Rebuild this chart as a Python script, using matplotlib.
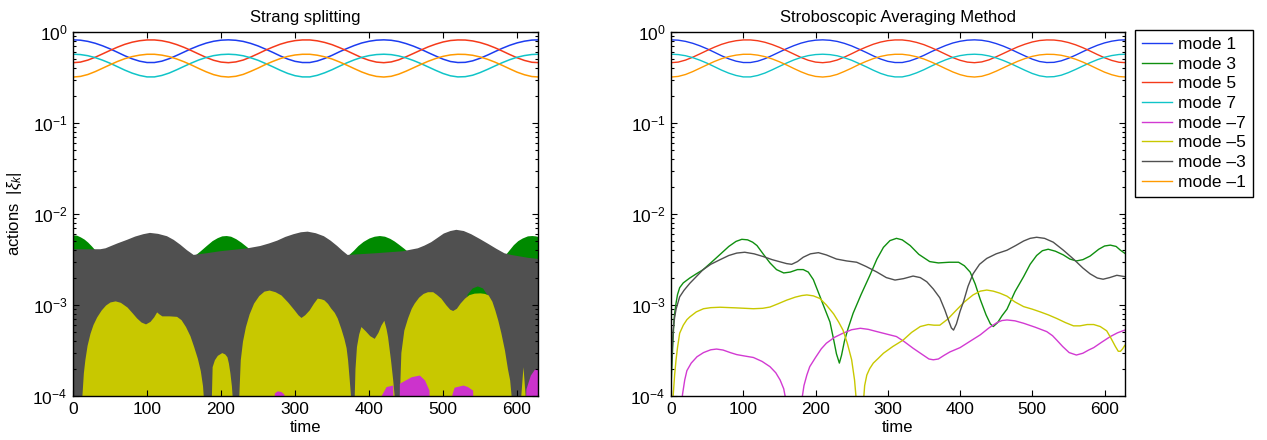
import numpy as np
import matplotlib
matplotlib.use('Agg')
import matplotlib.pyplot as plt

plt.rcParams['font.family'] = ['Liberation Sans', 'DejaVu Sans']
plt.rcParams['mathtext.fontset'] = 'custom'
plt.rcParams['mathtext.rm'] = 'Liberation Sans'
plt.rcParams['mathtext.it'] = 'Liberation Sans:italic'
plt.rcParams['mathtext.bf'] = 'Liberation Sans:bold'

FLOOR = 1e-5

# ---------------- top (large) modes, common to both panels ----------------
t_top = np.arange(0, 631, 10)
mode1 = [0.820, 0.813, 0.789, 0.752, 0.705, 0.653, 0.599, 0.548, 0.507, 0.478, 0.462, 0.462, 0.478, 0.509, 0.552, 0.602,
         0.656, 0.708, 0.755, 0.791, 0.813, 0.820, 0.811, 0.788, 0.750, 0.703, 0.649, 0.597, 0.546, 0.505, 0.476, 0.462,
         0.462, 0.480, 0.512, 0.554, 0.606, 0.658, 0.710, 0.757, 0.791, 0.813, 0.820, 0.811, 0.786, 0.746, 0.699, 0.647,
         0.593, 0.545, 0.503, 0.474, 0.462, 0.464, 0.482, 0.514, 0.557, 0.608, 0.662, 0.714, 0.759, 0.793, 0.815, 0.820]
mode5 = [0.460, 0.467, 0.491, 0.528, 0.575, 0.627, 0.681, 0.732, 0.773, 0.802, 0.818, 0.818, 0.802, 0.771, 0.728, 0.678,
         0.624, 0.572, 0.525, 0.489, 0.467, 0.460, 0.469, 0.492, 0.530, 0.577, 0.631, 0.683, 0.734, 0.775, 0.804, 0.818,
         0.818, 0.800, 0.768, 0.726, 0.674, 0.622, 0.570, 0.523, 0.489, 0.467, 0.460, 0.469, 0.494, 0.534, 0.581, 0.633,
         0.687, 0.735, 0.777, 0.806, 0.818, 0.816, 0.798, 0.766, 0.723, 0.672, 0.618, 0.566, 0.521, 0.487, 0.465, 0.460]
mode7 = [0.570, 0.565, 0.549, 0.523, 0.490, 0.454, 0.416, 0.381, 0.353, 0.333, 0.321, 0.321, 0.333, 0.354, 0.384, 0.419,
         0.456, 0.493, 0.525, 0.550, 0.565, 0.570, 0.564, 0.548, 0.521, 0.489, 0.451, 0.415, 0.380, 0.351, 0.331, 0.321,
         0.321, 0.334, 0.356, 0.385, 0.421, 0.458, 0.494, 0.526, 0.550, 0.565, 0.570, 0.564, 0.546, 0.519, 0.486, 0.450,
         0.413, 0.379, 0.350, 0.330, 0.321, 0.323, 0.335, 0.358, 0.388, 0.423, 0.460, 0.496, 0.528, 0.551, 0.566, 0.570]
mode_m1 = [0.320, 0.325, 0.341, 0.367, 0.400, 0.436, 0.474, 0.509, 0.537, 0.557, 0.569, 0.569, 0.557, 0.536, 0.506, 0.471,
           0.434, 0.397, 0.365, 0.340, 0.325, 0.320, 0.326, 0.342, 0.369, 0.401, 0.439, 0.475, 0.510, 0.539, 0.559, 0.569,
           0.569, 0.556, 0.534, 0.505, 0.469, 0.432, 0.396, 0.364, 0.340, 0.325, 0.320, 0.326, 0.344, 0.371, 0.404, 0.440,
           0.477, 0.511, 0.540, 0.560, 0.569, 0.567, 0.555, 0.532, 0.502, 0.467, 0.430, 0.394, 0.362, 0.339, 0.324, 0.320]

# ---------------- left panel: envelopes of the rapidly oscillating small modes ----------------
green_t = [0, 5, 10, 15, 20, 25, 30, 38, 45, 150, 160, 165, 172, 180, 188, 195, 201, 207, 213, 220, 227, 235, 242,
           250, 360, 366, 372, 379, 385, 392, 400, 407, 414, 421, 428, 434, 440, 447, 455, 470, 575, 580, 585, 590,
           595, 601, 607, 614, 620, 625, 630]
green_v = [5.9e-3, 5.85e-3, 5.6e-3, 5.3e-3, 4.9e-3, 4.45e-3, 4.0e-3, 3.5e-3, 3.0e-3, 3.0e-3, 3.3e-3, 3.55e-3, 3.95e-3,
           4.5e-3, 5.1e-3, 5.5e-3, 5.75e-3, 5.8e-3, 5.7e-3, 5.35e-3, 4.9e-3, 4.35e-3, 3.9e-3, 3.3e-3, 3.0e-3, 3.25e-3,
           3.55e-3, 4.0e-3, 4.5e-3, 5.0e-3, 5.45e-3, 5.7e-3, 5.8e-3, 5.7e-3, 5.4e-3, 5.05e-3, 4.65e-3, 4.2e-3, 3.7e-3,
           3.0e-3, 3.0e-3, 3.3e-3, 3.65e-3, 4.1e-3, 4.6e-3, 5.1e-3, 5.45e-3, 5.75e-3, 5.8e-3, 5.75e-3, 5.6e-3]

gray_t = [0, 20, 37, 44, 50, 60, 73, 84, 95, 104, 115, 127, 136, 145, 154, 163, 180, 199, 218, 236, 253, 265, 276,
          287, 298, 308, 317, 328, 339, 348, 357, 364, 371, 408, 446, 456, 466, 475, 484, 493, 501, 510, 518, 528,
          538, 550, 561, 572, 583, 592, 601, 615, 630]
gray_v = [4.1e-3, 4.1e-3, 4.1e-3, 4.2e-3, 4.4e-3, 4.75e-3, 5.2e-3, 5.65e-3, 6.0e-3, 6.2e-3, 6.05e-3, 5.7e-3, 5.2e-3,
          4.6e-3, 4.0e-3, 3.55e-3, 3.7e-3, 3.9e-3, 4.05e-3, 4.2e-3, 4.45e-3, 4.75e-3, 5.1e-3, 5.6e-3, 6.0e-3, 6.3e-3,
          6.4e-3, 6.15e-3, 5.7e-3, 5.1e-3, 4.45e-3, 3.95e-3, 3.55e-3, 3.7e-3, 3.9e-3, 4.05e-3, 4.2e-3, 4.5e-3, 4.9e-3,
          5.5e-3, 6.1e-3, 6.5e-3, 6.7e-3, 6.5e-3, 6.0e-3, 5.3e-3, 4.7e-3, 4.15e-3, 3.7e-3, 3.55e-3, 3.45e-3, 3.3e-3,
          3.2e-3]
gray_low_t = [0, 532, 533, 540, 547, 554, 561, 562, 630]
gray_low_v = [FLOOR, FLOOR, 1.3e-3, 1.52e-3, 1.6e-3, 1.52e-3, 1.25e-3, FLOOR, FLOOR]

yellow_t = [0, 11, 12, 14, 16, 19, 23, 27, 32, 38, 44, 50, 57, 64, 73, 80, 86, 92, 98, 104, 109, 113, 116, 120, 130,
            140, 146, 152, 158, 163, 168, 172, 175, 176, 177,
            186, 187, 188, 191, 195, 201, 205, 208, 210, 212, 214, 215, 216,
            223, 224, 226, 229, 233, 238, 244, 251, 258, 265, 273, 281, 290, 299, 304, 308, 313, 319, 325, 330, 335,
            339, 344, 348, 353, 357, 362, 366, 369, 371, 373, 375, 376,
            379, 380, 381, 383, 386, 389, 395, 401, 407, 412, 416, 420, 423, 425, 429, 432, 434, 435,
            440, 441, 443, 447, 452, 457, 461, 467, 473, 479, 486, 491, 497, 504, 509, 513, 518, 523, 529, 535, 542,
            550, 556, 561, 566, 570, 574, 578, 583, 587, 590, 592, 593,
            604, 605, 608, 611, 612, 630]
yellow_v = [FLOOR, FLOOR, 1.0e-4, 1.8e-4, 2.5e-4, 3.6e-4, 4.9e-4, 6.1e-4, 7.4e-4, 8.8e-4, 1.0e-3, 1.08e-3, 1.11e-3,
            1.07e-3, 9.5e-4, 8.2e-4, 7.2e-4, 6.5e-4, 6.2e-4, 6.6e-4, 7.4e-4, 8.4e-4, 8.0e-4, 7.6e-4, 7.6e-4, 7.5e-4,
            6.9e-4, 5.8e-4, 4.6e-4, 3.5e-4, 2.6e-4, 1.9e-4, 1.3e-4, 1.0e-4, FLOOR,
            FLOOR, 1.0e-4, 2.1e-4, 2.5e-4, 2.8e-4, 3.0e-4, 2.9e-4, 2.7e-4, 2.3e-4, 1.8e-4, 1.3e-4, 1.0e-4, FLOOR,
            FLOOR, 1.0e-4, 2.5e-4, 4.0e-4, 5.8e-4, 8.0e-4, 1.05e-3, 1.27e-3, 1.42e-3, 1.46e-3, 1.40e-3, 1.29e-3,
            1.08e-3, 8.8e-4, 7.8e-4, 7.3e-4, 7.8e-4, 8.8e-4, 1.05e-3, 1.19e-3, 1.17e-3, 1.14e-3, 1.04e-3, 9.3e-4,
            8.3e-4, 7.2e-4, 5.5e-4, 4.3e-4, 3.4e-4, 2.5e-4, 1.6e-4, 1.0e-4, FLOOR,
            FLOOR, 1.0e-4, 2.0e-4, 3.5e-4, 4.8e-4, 5.8e-4, 5.2e-4, 4.6e-4, 4.3e-4, 5.0e-4, 6.0e-4, 6.8e-4, 5.5e-4,
            4.5e-4, 2.5e-4, 1.5e-4, 1.0e-4, FLOOR,
            FLOOR, 1.0e-4, 3.0e-4, 5.3e-4, 7.2e-4, 9.2e-4, 1.05e-3, 1.22e-3, 1.34e-3, 1.40e-3, 1.40e-3, 1.31e-3,
            1.19e-3, 1.0e-3, 9.0e-4, 8.7e-4, 9.2e-4, 1.05e-3, 1.19e-3, 1.30e-3, 1.35e-3, 1.36e-3, 1.34e-3, 1.29e-3,
            1.1e-3, 8.8e-4, 6.8e-4, 5.0e-4, 3.2e-4, 2.0e-4, 1.5e-4, 1.0e-4, FLOOR,
            FLOOR, 1.0e-4, 2.1e-4, 1.0e-4, FLOOR, FLOOR]

magenta_t = [0, 270, 272, 276, 281, 285, 287, 415, 416, 423, 432, 434, 440, 441, 445, 457, 468, 475, 481, 484, 510,
             512, 515, 527, 533, 540, 543, 607, 612, 618, 624, 630]
magenta_v = [FLOOR, FLOOR, 1.08e-4, 1.14e-4, 1.12e-4, 1.05e-4, FLOOR, FLOOR, 1.0e-4, 1.27e-4, 1.32e-4, FLOOR, FLOOR,
             1.38e-4, 1.44e-4, 1.63e-4, 1.70e-4, 1.50e-4, 1.16e-4, FLOOR, FLOOR, 1.05e-4, 1.25e-4, 1.32e-4, 1.27e-4,
             1.16e-4, FLOOR, FLOOR, 1.2e-4, 1.7e-4, 2.0e-4, 1.9e-4]

# ---------------- right panel: averaged small modes ----------------
t3 = [0, 1, 2, 3, 4, 5, 7, 9, 12, 17, 26, 35, 44, 55, 68, 80, 90, 98, 106, 113, 119, 128, 137, 146, 156, 165, 175,
      183, 190, 197, 206, 213, 220, 225, 229, 233, 236, 240, 245, 252, 263, 275, 285, 294, 303, 312, 320, 331, 343,
      358, 370, 385, 398, 406, 414, 421, 428, 436, 442, 446, 452, 458, 465, 476, 488, 497, 506, 514, 522, 532, 543,
      552, 561, 570, 580, 592, 600, 608, 616, 622, 628]
v3 = [1.2e-4, 2.0e-4, 3.0e-4, 4.5e-4, 6.5e-4, 8.0e-4, 1.05e-3, 1.3e-3, 1.55e-3, 1.75e-3, 1.98e-3, 2.2e-3, 2.43e-3,
      2.9e-3, 3.6e-3, 4.4e-3, 5.0e-3, 5.27e-3, 5.2e-3, 4.9e-3, 4.5e-3, 3.6e-3, 2.9e-3, 2.45e-3, 2.25e-3, 2.3e-3,
      2.45e-3, 2.45e-3, 2.3e-3, 1.9e-3, 1.25e-3, 9.0e-4, 6.5e-4, 4.2e-4, 2.9e-4, 2.3e-4, 2.8e-4, 4.0e-4, 5.5e-4,
      8.1e-4, 1.3e-3, 2.1e-3, 3.2e-3, 4.3e-3, 5.1e-3, 5.4e-3, 5.2e-3, 4.5e-3, 3.6e-3, 3.0e-3, 2.9e-3, 2.95e-3,
      2.95e-3, 2.7e-3, 2.3e-3, 1.7e-3, 1.15e-3, 7.8e-4, 6.2e-4, 5.8e-4, 6.4e-4, 7.6e-4, 9.0e-4, 1.4e-3, 2.05e-3,
      2.8e-3, 3.5e-3, 3.95e-3, 4.1e-3, 3.9e-3, 3.55e-3, 3.2e-3, 3.05e-3, 3.15e-3, 3.45e-3, 4.1e-3, 4.45e-3,
      4.55e-3, 4.4e-3, 4.0e-3, 3.7e-3]

tm3 = [0, 1, 3, 5, 7, 12, 18, 26, 35, 44, 55, 68, 80, 91, 102, 115, 128, 140, 151, 160, 167, 175, 183, 193, 204,
       215, 229, 243, 257, 270, 285, 298, 310, 322, 335, 345, 354, 363, 372, 379, 384, 388, 391, 395, 400, 405, 411,
       418, 427, 437, 450, 465, 477, 488, 497, 506, 517, 529, 543, 557, 570, 580, 590, 598, 607, 617, 628]
vm3 = [1.5e-4, 2.5e-4, 5.3e-4, 7.3e-4, 9.0e-4, 1.23e-3, 1.45e-3, 1.73e-3, 2.05e-3, 2.43e-3, 2.8e-3, 3.15e-3, 3.5e-3,
       3.72e-3, 3.80e-3, 3.65e-3, 3.40e-3, 3.15e-3, 2.98e-3, 2.85e-3, 2.8e-3, 3.0e-3, 3.35e-3, 3.65e-3, 3.76e-3,
       3.55e-3, 3.2e-3, 3.05e-3, 2.95e-3, 2.65e-3, 2.3e-3, 2.0e-3, 1.88e-3, 1.95e-3, 2.08e-3, 2.0e-3, 1.8e-3, 1.5e-3,
       1.2e-3, 8.8e-4, 6.8e-4, 5.6e-4, 5.3e-4, 6.2e-4, 8.5e-4, 1.1e-3, 1.6e-3, 2.2e-3, 2.8e-3, 3.25e-3, 3.65e-3,
       4.0e-3, 4.5e-3, 5.05e-3, 5.4e-3, 5.55e-3, 5.4e-3, 4.9e-3, 4.0e-3, 3.2e-3, 2.55e-3, 2.2e-3, 1.98e-3, 1.92e-3,
       2.0e-3, 2.12e-3, 2.05e-3]

tm5 = [0, 2, 3, 5, 7, 9, 12, 17, 22, 26, 35, 45, 55, 68, 90, 114, 127, 137, 148, 160, 172, 181, 188, 197, 206, 215,
       225, 232, 238, 244, 250, 254, 257, 259, 264, 266, 268, 271, 275, 280, 287, 294, 307, 321, 333, 345, 356, 364,
       372, 383, 395, 406, 418, 428, 437, 446, 455, 465, 476, 488, 500, 511, 522, 534, 546, 557, 566, 576, 585, 594,
       603, 609, 615, 619, 622, 625, 628]
vm5 = [2e-5, 6e-5, 1.0e-4, 1.7e-4, 2.5e-4, 3.4e-4, 4.9e-4, 6.0e-4, 6.9e-4, 7.4e-4, 8.4e-4, 9.1e-4, 9.35e-4, 9.45e-4,
       9.3e-4, 9.1e-4, 9.2e-4, 9.5e-4, 1.03e-3, 1.13e-3, 1.22e-3, 1.27e-3, 1.29e-3, 1.26e-3, 1.18e-3, 1.0e-3, 8.0e-4,
       6.5e-4, 5.3e-4, 3.8e-4, 2.5e-4, 1.5e-4, 8e-5, 3e-5, 3e-5, 8e-5, 1.3e-4, 1.7e-4, 2.0e-4, 2.3e-4, 2.6e-4,
       2.95e-4, 3.5e-4, 4.1e-4, 5.0e-4, 5.8e-4, 6.1e-4, 6.0e-4, 6.0e-4, 7.0e-4, 8.8e-4, 1.08e-3, 1.29e-3, 1.42e-3,
       1.46e-3, 1.42e-3, 1.35e-3, 1.25e-3, 1.08e-3, 9.6e-4, 9.0e-4, 8.4e-4, 7.8e-4, 7.1e-4, 6.4e-4, 5.9e-4, 5.9e-4,
       6.1e-4, 6.1e-4, 5.8e-4, 5.2e-4, 4.3e-4, 3.5e-4, 3.1e-4, 3.1e-4, 3.3e-4, 3.6e-4]

tm7 = [12, 14, 16, 19, 22, 28, 36, 45, 55, 63, 72, 82, 91, 102, 114, 126, 137, 145, 151, 156, 159, 162, 178, 181, 184,
       188, 192, 200, 208, 215, 226, 238, 250, 262, 273, 285, 298, 312, 322, 335, 348, 357, 363, 370, 378, 386, 400,
       414, 428, 440, 451, 458, 465, 476, 488, 504, 520, 528, 534, 542, 551, 561, 570, 578, 585, 596, 608, 618, 628]
vm7 = [2e-5, 7e-5, 1.05e-4, 1.5e-4, 1.9e-4, 2.3e-4, 2.7e-4, 3.0e-4, 3.22e-4, 3.28e-4, 3.2e-4, 3.0e-4, 2.85e-4,
       2.75e-4, 2.65e-4, 2.4e-4, 2.1e-4, 1.8e-4, 1.5e-4, 1.2e-4, 9e-5, 2e-5, 2e-5, 9e-5, 1.3e-4, 1.7e-4, 2.1e-4,
       2.65e-4, 3.3e-4, 3.8e-4, 4.4e-4, 4.9e-4, 5.35e-4, 5.55e-4, 5.4e-4, 5.1e-4, 4.8e-4, 4.5e-4, 4.0e-4, 3.35e-4,
       2.85e-4, 2.55e-4, 2.5e-4, 2.55e-4, 2.8e-4, 3.05e-4, 3.4e-4, 4.0e-4, 4.7e-4, 5.6e-4, 6.4e-4, 6.75e-4, 6.85e-4,
       6.7e-4, 6.3e-4, 5.7e-4, 5.1e-4, 4.6e-4, 4.1e-4, 3.5e-4, 3.0e-4, 2.82e-4, 2.95e-4, 3.2e-4, 3.4e-4, 3.9e-4,
       4.5e-4, 4.95e-4, 5.3e-4]

labels = ['mode 1', 'mode 3', 'mode 5', 'mode 7', 'mode \u20137', 'mode \u20135', 'mode \u20133', 'mode \u20131']
colors = {'1': '#1c3cf0', '3': '#0f8f0f', '5': '#f53a1a', '7': '#10c4c8',
          '-7': '#d23ad2', '-5': '#c8c800', '-3': '#505050', '-1': '#ff9a00'}
fill_colors = {'3': '#008a00', '-3': '#505050', '-5': '#c8c800', '-7': '#cc33cc'}

TMAX = 628.3

fig = plt.figure(figsize=(12.67, 4.4), dpi=100)
axL = fig.add_axes([73 / 1267, 44 / 440, 465 / 1267, 364 / 440])
axR = fig.add_axes([671 / 1267, 44 / 440, 454 / 1267, 364 / 440])

for ax in (axL, axR):
    ax.set_yscale('log')
    ax.set_xlim(0, TMAX)
    ax.set_ylim(1e-4, 1)
    ax.set_xticks([0, 100, 200, 300, 400, 500, 600])
    ax.tick_params(which='both', direction='in', top=True, right=True, labelsize=12.5, width=0.8)
    ax.tick_params(which='major', length=4.5, pad=4)
    ax.tick_params(which='minor', length=2.3)
    for s in ax.spines.values():
        s.set_linewidth(1.0)
    ax.set_xlabel('time', fontsize=12, labelpad=2.5)

# left panel
axL.fill_between(green_t, FLOOR, green_v, color=fill_colors['3'], lw=0)
axL.fill(np.concatenate([gray_t, gray_low_t[::-1]]), np.concatenate([gray_v, gray_low_v[::-1]]),
         color=fill_colors['-3'], lw=0)
axL.fill_between(yellow_t, FLOOR, yellow_v, color=fill_colors['-5'], lw=0)
axL.fill_between(magenta_t, FLOOR, magenta_v, color=fill_colors['-7'], lw=0)
for vals, key in ((mode1, '1'), (mode5, '5'), (mode7, '7'), (mode_m1, '-1')):
    axL.plot(t_top, vals, color=colors[key], lw=1.1)
axL.set_title('Strang splitting', fontsize=12, pad=7)
axL.set_ylabel(r'actions  $|\xi_k|$', fontsize=12)
axL.yaxis.set_label_coords(-0.105, 0.5)

# right panel
handles = []
series = [(t_top, mode1, '1'), (t3, v3, '3'), (t_top, mode5, '5'), (t_top, mode7, '7'),
          (tm7, vm7, '-7'), (tm5, vm5, '-5'), (tm3, vm3, '-3'), (t_top, mode_m1, '-1')]
for (tt, vv, key), lab in zip(series, labels):
    h, = axR.plot(tt, vv, color=colors[key], lw=1.0, label=lab)
    handles.append(h)
axR.set_title('Stroboscopic Averaging Method', fontsize=12, pad=7)

leg = fig.legend(handles, labels, loc='upper left', bbox_to_anchor=(1135 / 1267, 1 - 30 / 440),
                 frameon=True, fancybox=False, edgecolor='black', framealpha=1, fontsize=12.5,
                 handlelength=1.75, handletextpad=0.35, labelspacing=0.26, borderpad=0.4, borderaxespad=0)
leg.get_frame().set_linewidth(1.0)

fig.savefig('out.png', dpi=100)
